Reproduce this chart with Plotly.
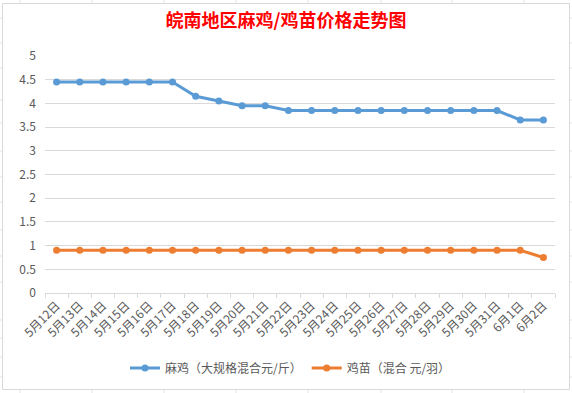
import plotly.graph_objects as go

dates = ["5月12日", "5月13日", "5月14日", "5月15日", "5月16日", "5月17日", "5月18日",
         "5月19日", "5月20日", "5月21日", "5月22日", "5月23日", "5月24日", "5月25日",
         "5月26日", "5月27日", "5月28日", "5月29日", "5月30日", "5月31日", "6月1日", "6月2日"]
maji = [4.45, 4.45, 4.45, 4.45, 4.45, 4.45, 4.15, 4.05, 3.95, 3.95, 3.85, 3.85, 3.85, 3.85,
        3.85, 3.85, 3.85, 3.85, 3.85, 3.85, 3.65, 3.65]
jimiao = [0.9, 0.9, 0.9, 0.9, 0.9, 0.9, 0.9, 0.9, 0.9, 0.9, 0.9, 0.9, 0.9, 0.9,
          0.9, 0.9, 0.9, 0.9, 0.9, 0.9, 0.9, 0.75]
name_maji = "麻鸡（大规格混合元/斤）"
name_jimiao = "鸡苗（混合 元/羽）"
title_text = "皖南地区麻鸡/鸡苗价格走势图"
y_ticks = [0, 0.5, 1, 1.5, 2, 2.5, 3, 3.5, 4, 4.5, 5]

W, H = 572, 393
L, R, T, B = 45, 17, 56, 100
pw, ph = W - L - R, H - T - B

def px(x):
    return (x - L) / pw

def py(y):
    return (H - B - y) / ph

FONT = "Noto Sans CJK SC, DejaVu Sans, sans-serif"
fig = go.Figure()
fig.add_trace(go.Scatter(x=dates, y=maji, name=name_maji, mode="lines+markers",
                         line=dict(color="#5B9BD5", width=3),
                         marker=dict(color="#5B9BD5", size=7)))
fig.add_trace(go.Scatter(x=dates, y=jimiao, name=name_jimiao, mode="lines+markers",
                         line=dict(color="#ED7D31", width=3),
                         marker=dict(color="#ED7D31", size=7)))

shapes = []
# spreadsheet cell grid behind the chart
for gx in [20, 92, 164, 236, 308, 381, 452, 524]:
    shapes.append(dict(type="line", xref="paper", yref="paper", x0=px(gx), x1=px(gx),
                       y0=py(-5), y1=py(H + 5), line=dict(color="#e3e3e3", width=1), layer="below"))
for gy in [18, 43, 68, 100, 123, 151, 177, 202, 230, 256, 282, 320, 338, 357, 377]:
    shapes.append(dict(type="line", xref="paper", yref="paper", x0=px(-5), x1=px(W + 5),
                       y0=py(gy), y1=py(gy), line=dict(color="#e3e3e3", width=1), layer="below"))
# chart area
shapes.append(dict(type="rect", xref="paper", yref="paper", x0=px(2.5), x1=px(569.5),
                   y0=py(389.5), y1=py(3.5), fillcolor="white",
                   line=dict(color="#d9d9d9", width=1), layer="below"))

fig.update_layout(
    width=W, height=H,
    margin=dict(l=L, r=R, t=T, b=B, autoexpand=False),
    paper_bgcolor="white", plot_bgcolor="rgba(0,0,0,0)",
    font=dict(family=FONT, size=11, color="#595959"),
    title=dict(text=title_text, x=0.5, xanchor="center", y=1 - 21 / H, yanchor="middle",
               font=dict(family=FONT, size=18, color="#FF0000", weight="bold")),
    showlegend=True,
    legend=dict(orientation="h", x=px(125), xanchor="left", y=py(368), yanchor="middle",
                font=dict(size=12, color="#595959"), bgcolor="rgba(0,0,0,0)",
                itemwidth=30, tracegroupgap=0),
    shapes=shapes,
    xaxis=dict(type="category", range=[-0.5, len(dates) - 0.5], tickangle=-45,
               tickson="boundaries", ticks="outside",
               ticklen=4, tickcolor="#d9d9d9", showline=True, linecolor="#d9d9d9",
               showgrid=False, tickfont=dict(size=12, color="#595959"), fixedrange=True,
               automargin=False),
    yaxis=dict(range=[0, 5], tickvals=y_ticks, ticktext=[f"{v:g}" for v in y_ticks],
               showgrid=True, gridcolor="#d9d9d9", gridwidth=1, zeroline=False,
               showline=False, ticks="", ticklabelstandoff=8,
               tickfont=dict(size=12, color="#595959"), fixedrange=True,
               automargin=False),
)
fig.write_html("out.html", config={"displayModeBar": False},
               post_script="document.body.style.margin='0';")
